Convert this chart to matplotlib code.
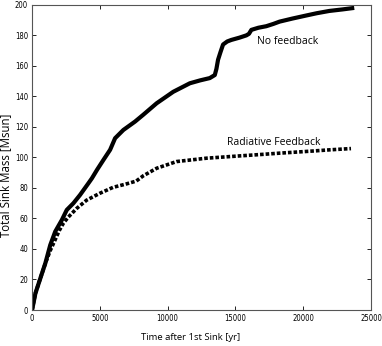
import numpy as np
import matplotlib
matplotlib.use("Agg")
import matplotlib.pyplot as plt

# curves (time in yr, mass in Msun)
t_nofb = [0, 244, 610, 976, 1341, 1707, 2195, 2560, 3050, 3537, 4150,
          4412, 4800, 5266, 5757, 6125, 6735, 7596, 8206, 9191, 10412,
          11640, 12400, 13110, 13480, 13600, 13720, 13900, 14090, 14400,
          14700, 15300, 15810, 16000, 16180, 16700, 17280, 17800, 18260,
          19200, 20220, 21000, 21930, 22900, 23770]
m_nofb = [0, 10.9, 20.8, 30.6, 42.6, 51.4, 59, 65.6, 70, 75.4, 83,
          86.3, 92, 98.4, 105, 112.6, 118, 123.5, 128, 135.5, 143,
          148.6, 150.5, 152, 154, 158, 164, 169, 174, 176,
          177, 178.5, 180, 181, 183.6, 185, 186, 187.5, 189,
          191, 193, 194.5, 196, 197, 198]

t_rad = [0, 244, 610, 976, 1341, 1700, 2000, 2317, 2683, 3293, 4024,
         5000, 5976, 6900, 7683, 8210, 9191, 10662, 12868, 15316,
         17000, 18260, 19500, 20710, 22000, 23530]
m_rad = [0, 10.9, 20.8, 30.5, 39, 46, 52, 57, 61, 66.6, 72,
         76.5, 80.4, 82.5, 84.5, 88, 92.9, 97.3, 99.5, 101,
         102, 102.8, 103.5, 104.2, 105, 105.8]

fig = plt.figure(figsize=(3.82, 3.46), dpi=100)
ax = fig.add_axes([0.084, 0.104, 0.887, 0.882])

ax.plot(t_nofb, m_nofb, color="black", lw=3.0, solid_capstyle="butt")
dashed, = ax.plot(t_rad, m_rad, color="black", lw=2.6)
dashed.set_dashes([1.0, 0.55])

ax.set_xlim(0, 25000)
ax.set_ylim(0, 200)
ax.set_xticks(np.arange(0, 25001, 5000))
ax.set_yticks(np.arange(0, 201, 20))

tickfont = {"family": "DejaVu Sans", "stretch": "condensed", "size": 5.5}
ax.set_xticklabels([str(v) for v in range(0, 25001, 5000)], fontdict=tickfont)
ax.set_yticklabels([str(v) for v in range(0, 201, 20)], fontdict=tickfont)
ax.tick_params(direction="in", length=3, width=0.6, top=True, right=True,
               pad=3, colors="black")
for sp in ax.spines.values():
    sp.set_color("#555555")
    sp.set_linewidth(0.8)

ax.set_xlabel("Time after 1st Sink [yr]", family="Open Sans", fontsize=6.8)
ax.xaxis.set_label_coords(0.468, -0.075)
ax.set_ylabel("Total Sink Mass [Msun]", family="Open Sans", fontsize=8.3)
ax.yaxis.set_label_coords(-0.06, 0.44)

ax.text(18850, 176, "No feedback", family="Open Sans", fontsize=7.5,
        ha="center", va="center")
ax.text(14400, 110, "Radiative Feedback", family="Open Sans", fontsize=7.5,
        ha="left", va="center")

fig.savefig("out.png", dpi=100)
